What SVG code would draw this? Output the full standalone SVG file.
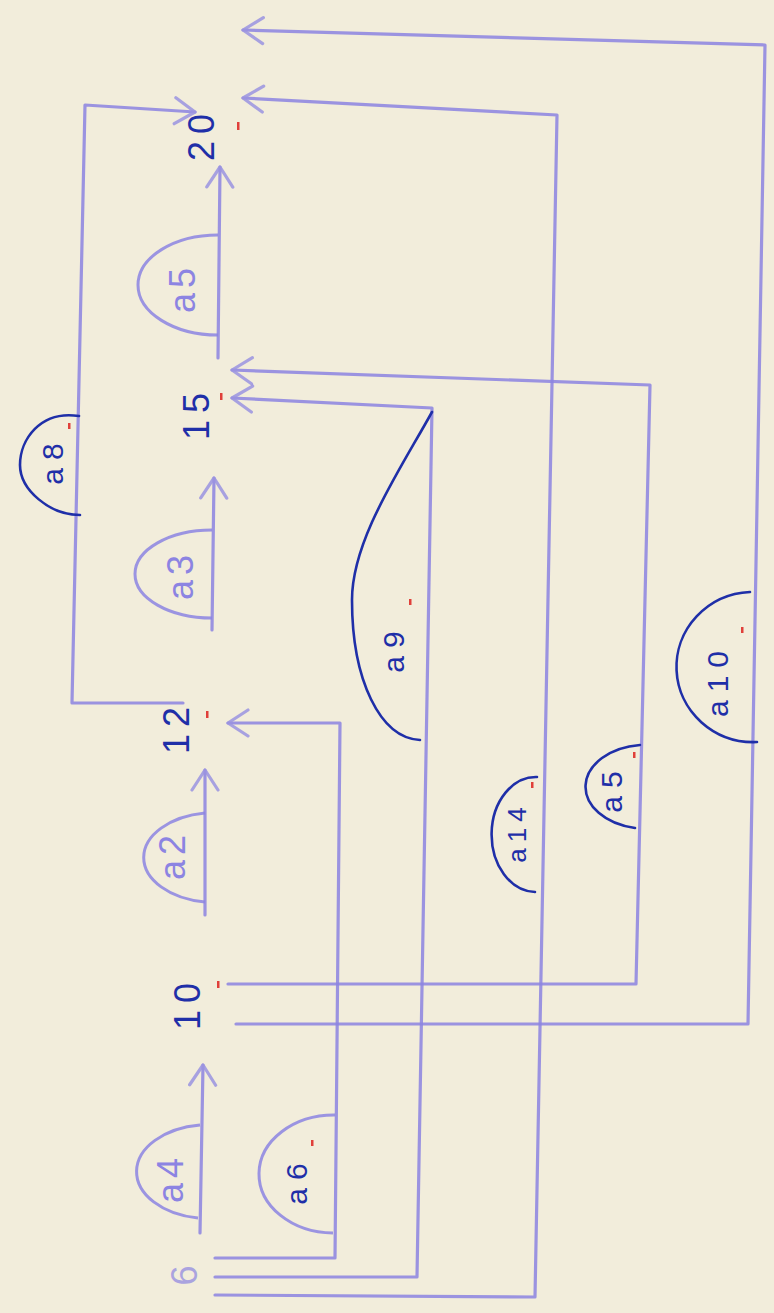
<svg xmlns="http://www.w3.org/2000/svg" width="774" height="1313" viewBox="0 0 774 1313">
<defs>
<style>
.bg{fill:#f2eddb}
.ln{fill:none;stroke:#8c84e2;stroke-width:3.2;stroke-linejoin:round;stroke-linecap:round;opacity:0.85}
.ink{fill:none;stroke:#1f2fa8;stroke-width:2.6;stroke-linecap:round}
.pb{fill:none;stroke:#8c84e2;stroke-width:3;opacity:0.85}
.tp{fill:#8c84e2;font-family:"Liberation Sans",sans-serif;font-size:36px;letter-spacing:5px}
.tb{fill:#1f2fa8;font-family:"Liberation Sans",sans-serif;font-size:30px;letter-spacing:8px}
.tn{fill:#1f2fa8;font-family:"Liberation Sans",sans-serif;font-size:36px;letter-spacing:7px}
.rd{fill:#e0403a}
</style>
<marker id="ah" viewBox="-24 -15 28 30" refX="0" refY="0" markerWidth="28" markerHeight="30" markerUnits="userSpaceOnUse" orient="auto">
<path d="M-20,-13 L0,0 L-20,13" fill="none" stroke="#8c84e2" stroke-width="3.2" stroke-linecap="round" stroke-linejoin="round" opacity="0.85"/>
</marker>
</defs>
<rect class="bg" x="0" y="0" width="774" height="1313"/>

<g id="connectors">
<path class="ln" d="M200,1233 L203,1065" marker-end="url(#ah)"/>
<path class="ln" d="M205,915 L205,770" marker-end="url(#ah)"/>
<path class="ln" d="M212,630 L214,478" marker-end="url(#ah)"/>
<path class="ln" d="M218,358 L220,167" marker-end="url(#ah)"/>
<path class="ln" d="M183,703 L72,703 L85,105 L195,112" marker-end="url(#ah)"/>
<path class="ln" d="M215,1258 L335,1258 L340,723 L228,723" marker-end="url(#ah)"/>
<path class="ln" d="M215,1277 L417,1277 L432,408 L232,398" marker-end="url(#ah)"/>
<path class="ln" d="M215,1295 L535,1297 L557,115 L243,98" marker-end="url(#ah)"/>
<path class="ln" d="M228,984 L636,984 L650,385 L232,370" marker-end="url(#ah)"/>
<path class="ln" d="M236,1024 L748,1024 L765,45 L243,30" marker-end="url(#ah)"/>
</g>

<g id="n6"><text class="tp" style="font-size:36px;opacity:0.7" transform="translate(184,1273) rotate(-90)" text-anchor="middle" dominant-baseline="central">6</text></g>
<g id="n10"><text class="tn" transform="translate(187,1003) rotate(-90)" text-anchor="middle" dominant-baseline="central">10</text><rect class="rd" x="217" y="981" width="2.5" height="7"/></g>
<g id="n12"><text class="tn" transform="translate(176,727) rotate(-90)" text-anchor="middle" dominant-baseline="central">12</text><rect class="rd" x="206" y="711" width="2.5" height="7"/></g>
<g id="n15"><text class="tn" transform="translate(196,413) rotate(-90)" text-anchor="middle" dominant-baseline="central">15</text><rect class="rd" x="220" y="393" width="2.5" height="7"/></g>
<g id="n20"><text class="tn" transform="translate(201,134) rotate(-90)" text-anchor="middle" dominant-baseline="central">20</text><rect class="rd" x="237" y="122" width="2.5" height="8"/></g>

<g id="la4"><path class="pb" d="M200,1125 A73,47 0 0 0 198,1218"/><text class="tp" transform="translate(170,1178) rotate(-90)" text-anchor="middle" dominant-baseline="central">a4</text></g>
<g id="la2"><path class="pb" d="M205,813 A72,45 0 0 0 205,902"/><text class="tp" transform="translate(172,855) rotate(-90)" text-anchor="middle" dominant-baseline="central">a2</text></g>
<g id="la3"><path class="pb" d="M212,530 A77,44 0 0 0 212,618"/><text class="tp" transform="translate(180,575) rotate(-90)" text-anchor="middle" dominant-baseline="central">a3</text></g>
<g id="la5"><path class="pb" d="M218,235 A80,50 0 0 0 218,335"/><text class="tp" transform="translate(182,288) rotate(-90)" text-anchor="middle" dominant-baseline="central">a5</text></g>
<g id="la6"><path class="pb" d="M335,1115 A75,59 0 0 0 333,1233"/><text class="tb" transform="translate(296,1180) rotate(-90)" text-anchor="middle" dominant-baseline="central">a6</text><rect class="rd" x="311" y="1140" width="2.5" height="6"/></g>
<g id="la8"><path class="ink" d="M79,416 C40,410 20,440 20,465 C20,490 50,515 80,515"/><text class="tb" transform="translate(52,460) rotate(-90)" text-anchor="middle" dominant-baseline="central">a8</text><rect class="rd" x="68" y="423" width="2.5" height="6"/></g>
<g id="la9"><path class="ink" d="M432,412 C400,470 352,540 352,600 C352,680 380,738 420,740"/><text class="tb" transform="translate(393,648) rotate(-90)" text-anchor="middle" dominant-baseline="central">a9</text><rect class="rd" x="409" y="599" width="2.5" height="6"/></g>
<g id="la14"><path class="ink" d="M537,777 A44,57 0 0 0 535,892"/><text class="tb" style="font-size:26px;letter-spacing:6px" transform="translate(517,832) rotate(-90)" text-anchor="middle" dominant-baseline="central">a14</text><rect class="rd" x="531" y="782" width="2.5" height="6"/></g>
<g id="la5b"><path class="ink" d="M640,745 A61,42 0 0 0 635,828"/><text class="tb" transform="translate(611,788) rotate(-90)" text-anchor="middle" dominant-baseline="central">a5</text><rect class="rd" x="633" y="752" width="2.5" height="6"/></g>
<g id="la10"><path class="ink" d="M750,592 A77,75 0 0 0 757,742"/><text class="tb" transform="translate(717,680) rotate(-90)" text-anchor="middle" dominant-baseline="central">a10</text><rect class="rd" x="741" y="627" width="2.5" height="6"/></g>
</svg>
